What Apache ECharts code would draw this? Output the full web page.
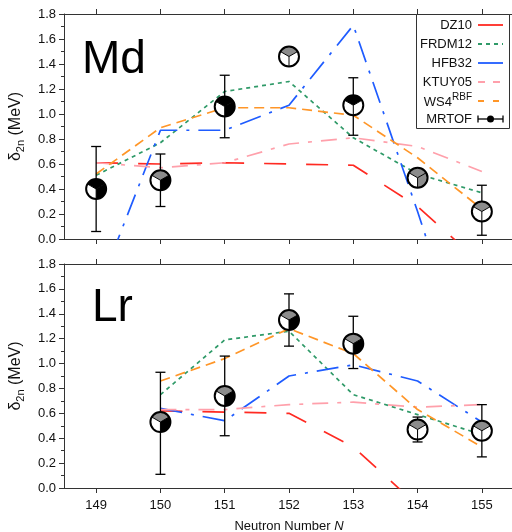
<!DOCTYPE html>
<html><head><meta charset="utf-8">
<script src="https://cdn.jsdelivr.net/npm/echarts@6/dist/echarts.min.js"></script>
<style>html,body{margin:0;padding:0;background:#fff}#c{width:512px;height:532px}</style>
</head><body><div id="c"></div>
<script>
// ---------- data ----------
const N = [149, 150, 151, 152, 153, 154, 155];
const yTicks = [0, 0.2, 0.4, 0.6, 0.8, 1.0, 1.2, 1.4, 1.6, 1.8];
const models = ['DZ10', 'FRDM12', 'HFB32', 'KTUY05', 'WS4'];

// Md (Z=101)
const mdDZ10   = [0.61, 0.60, 0.61, 0.60, 0.59, 0.26, -0.20];
const mdFRDM12 = [0.51, 0.77, 1.18, 1.26, 0.81, 0.52, 0.37];
const mdHFB32  = [-0.45, 0.87, 0.87, 1.07, 1.71, 0.22, -1.35];
const mdKTUY05 = [0.61, 0.57, 0.61, 0.76, 0.81, 0.74, 0.54];
const mdWS4    = [0.52, 0.89, 1.05, 1.05, 0.99, 0.65, 0.24];
const mdExp    = [0.40, 0.47, 1.06, 1.46, 1.07, 0.49, 0.22];
const mdLo     = [0.06, 0.26, 0.81, null, 0.83, null, 0.03];
const mdHi     = [0.74, 0.68, 1.31, null, 1.29, null, 0.43];
const mdTop    = ['k', 'g', 'k', 'g', 'k', 'g', 'g'];
const mdLL     = ['w', 'w', 'w', 'w', 'w', 'w', 'w'];
const mdLR     = ['k', 'k', 'k', 'w', 'w', 'g', 'w'];

// Lr (Z=103)
const lrDZ10   = [null, 0.62, 0.61, 0.60, 0.33, -0.14, -0.60];
const lrFRDM12 = [null, 0.75, 1.19, 1.26, 0.75, 0.59, 0.43];
const lrHFB32  = [null, 0.64, 0.54, 0.90, 0.99, 0.86, 0.53];
const lrKTUY05 = [null, 0.63, 0.63, 0.67, 0.69, 0.65, 0.67];
const lrWS4    = [null, 0.86, 1.04, 1.28, 1.08, 0.63, 0.33];
const lrExp    = [null, 0.53, 0.74, 1.35, 1.16, 0.47, 0.46];
const lrLo     = [null, 0.11, 0.42, 1.14, 0.96, 0.37, 0.25];
const lrHi     = [null, 0.93, 1.06, 1.56, 1.38, 0.57, 0.67];
const lrTop    = [null, 'g', 'g', 'g', 'g', 'g', 'g'];
const lrLL     = [null, 'w', 'w', 'w', 'w', 'w', 'w'];
const lrLR     = [null, 'k', 'k', 'k', 'k', 'w', 'w'];

// ---------- styles ----------
const FONT = 'Liberation Sans, Arial, Helvetica, sans-serif';
const COL = {DZ10: '#ff2a22', FRDM12: '#2f9a68', HFB32: '#1f5cff', KTUY05: '#ffa0ab', WS4: '#ff9628'};
const DASH = {DZ10: [22, 20], FRDM12: [4, 4], HFB32: [22, 9, 3, 9], KTUY05: [16, 9, 4, 9], WS4: [10, 6]};
const FILL = {k: '#000000', g: '#8c8c8c', w: '#ffffff'};

const panels = [
  {name: 'Md', lines: {DZ10: mdDZ10, FRDM12: mdFRDM12, HFB32: mdHFB32, KTUY05: mdKTUY05, WS4: mdWS4},
   exp: mdExp, lo: mdLo, hi: mdHi, top: mdTop, ll: mdLL, lr: mdLR},
  {name: 'Lr', lines: {DZ10: lrDZ10, FRDM12: lrFRDM12, HFB32: lrHFB32, KTUY05: lrKTUY05, WS4: lrWS4},
   exp: lrExp, lo: lrLo, hi: lrHi, top: lrTop, ll: lrLL, lr: lrLR}
];

const grids = [
  {left: 64, right: -2, top: 14, height: 225, containLabel: false, outerBoundsMode: 'none'},
  {left: 64, right: -2, top: 264, height: 224, containLabel: false, outerBoundsMode: 'none'}
];

function xAxis(gi, pos, last) {
  return {
    type: 'value', gridIndex: gi, position: pos, min: 148.5, max: 155.5,
    axisLine: {show: true, onZero: false, lineStyle: {color: '#333', width: 1}},
    axisTick: {show: true, inside: false, length: 5, customValues: N, lineStyle: {color: '#333'}},
    axisLabel: {show: last, customValues: N, formatter: v => String(v), color: '#111',
      fontSize: 13, fontFamily: FONT, margin: 11},
    splitLine: {show: false},
    name: last ? 'Neutron Number {i|N}' : '', nameLocation: 'middle', nameGap: 32,
    nameTextStyle: {fontSize: 13, fontFamily: FONT, color: '#111',
      rich: {i: {fontStyle: 'italic', fontSize: 13, fontFamily: FONT, color: '#111'}}}
  };
}
function yAxis(gi) {
  return {
    type: 'value', gridIndex: gi, min: 0, max: 1.8, interval: 0.2,
    axisLine: {show: true, lineStyle: {color: '#333', width: 1}},
    axisTick: {show: true, inside: false, length: 5, lineStyle: {color: '#333'}},
    minorTick: {show: true, splitNumber: 2, length: 3, lineStyle: {color: '#333'}},
    splitLine: {show: false},
    axisLabel: {formatter: v => v.toFixed(1), fontSize: 13, fontFamily: FONT, color: '#111', margin: 8},
    name: '{d|δ}{s|2n}{d| (MeV)}', nameLocation: 'middle', nameGap: 38, nameRotate: 90,
    nameTextStyle: {fontFamily: FONT, color: '#111', rich: {
      d: {fontSize: 16, fontFamily: FONT, color: '#111', verticalAlign: 'middle', lineHeight: 20},
      s: {fontSize: 11, fontFamily: FONT, color: '#111', verticalAlign: 'middle', padding: [9, 0, 0, 0]}
    }}
  };
}

const xAxes = [], yAxes = [], series = [];
panels.forEach((p, gi) => {
  xAxes.push(xAxis(gi, 'bottom', gi === 1));
  xAxes.push(xAxis(gi, 'top', false));
  yAxes.push(yAxis(gi));
  models.forEach(m => {
    series.push({
      type: 'line', name: m, xAxisIndex: gi * 2, yAxisIndex: gi, symbol: 'none', clip: true,
      lineStyle: {color: COL[m], width: 1.7, type: DASH[m]},
      data: N.map((n, i) => [n, p.lines[m][i]]), z: 2, silent: true
    });
  });
  series.push({
    type: 'custom', xAxisIndex: gi * 2, yAxisIndex: gi, clip: false, z: 5, silent: true,
    data: N.map((n, i) => [n, p.exp[i], p.lo[i], p.hi[i], i]).filter(d => d[1] != null),
    encode: {x: 0, y: 1},
    renderItem: (params, api) => {
      const idx = api.value(4);
      const c = api.coord([api.value(0), api.value(1)]);
      const ch = [];
      const lo = p.lo[idx], hi = p.hi[idx];
      if (lo != null && hi != null) {
        const a = api.coord([api.value(0), lo]), b = api.coord([api.value(0), hi]);
        const ls = {stroke: '#000', lineWidth: 1.3};
        ch.push({type: 'line', shape: {x1: a[0], y1: a[1], x2: b[0], y2: b[1]}, style: ls});
        ch.push({type: 'line', shape: {x1: a[0] - 5, y1: a[1], x2: a[0] + 5, y2: a[1]}, style: ls});
        ch.push({type: 'line', shape: {x1: b[0] - 5, y1: b[1], x2: b[0] + 5, y2: b[1]}, style: ls});
      }
      const r = 10, cx = c[0], cy = c[1];
      const secs = [
        [7 * Math.PI / 6, 11 * Math.PI / 6, p.top[idx]],
        [-Math.PI / 6, Math.PI / 2, p.lr[idx]],
        [Math.PI / 2, 7 * Math.PI / 6, p.ll[idx]]
      ];
      secs.forEach(s => ch.push({type: 'sector',
        shape: {cx, cy, r0: 0, r, startAngle: s[0], endAngle: s[1], clockwise: true},
        style: {fill: FILL[s[2]], stroke: null}}));
      [7 * Math.PI / 6, 11 * Math.PI / 6, Math.PI / 2].forEach(a => ch.push({type: 'line',
        shape: {x1: cx, y1: cy, x2: cx + r * Math.cos(a), y2: cy + r * Math.sin(a)},
        style: {stroke: '#000', lineWidth: 1}}));
      ch.push({type: 'circle', shape: {cx, cy, r}, style: {fill: null, stroke: '#000', lineWidth: 2}});
      return {type: 'group', children: ch};
    }
  });
});

// ---------- legend (graphic) ----------
const LX = 416, LY = 14, LW = 93, LH = 114;
const legRows = [
  {t: 'DZ10', y: 25, m: 'DZ10', dash: null},
  {t: 'FRDM12', y: 44, m: 'FRDM12', dash: [4, 4]},
  {t: 'HFB32', y: 63, m: 'HFB32', dash: null},
  {t: 'KTUY05', y: 82, m: 'KTUY05', dash: [7, 8]},
  {t: 'WS4', y: 101, m: 'WS4', dash: [6, 9]},
  {t: 'MRTOF', y: 119, m: null}
];
const graphic = [
  {type: 'rect', shape: {x: LX + 0.5, y: LY + 0.5, width: LW, height: LH}, style: {fill: '#fff', stroke: '#333', lineWidth: 1}, z: 10},
  {type: 'text', x: 82, y: 60, style: {text: 'Md', fontSize: 46, fontFamily: FONT, fill: '#000', textAlign: 'left', textVerticalAlign: 'middle'}, z: 10},
  {type: 'text', x: 92, y: 308, style: {text: 'Lr', fontSize: 46, fontFamily: FONT, fill: '#000', textAlign: 'left', textVerticalAlign: 'middle'}, z: 10}
];
legRows.forEach(row => {
  if (row.m === 'WS4') {
    graphic.push({type: 'text', x: 472, y: row.y - 4, style: {text: 'RBF', fontSize: 10, fontFamily: FONT, fill: '#111', textAlign: 'right', textVerticalAlign: 'middle'}, z: 11});
    graphic.push({type: 'text', x: 452, y: row.y + 1, style: {text: 'WS4', fontSize: 13, fontFamily: FONT, fill: '#111', textAlign: 'right', textVerticalAlign: 'middle'}, z: 11});
  } else {
    graphic.push({type: 'text', x: 472, y: row.y, style: {text: row.t, fontSize: 13, fontFamily: FONT, fill: '#111', textAlign: 'right', textVerticalAlign: 'middle'}, z: 11});
  }
  if (row.m) {
    graphic.push({type: 'line', shape: {x1: 478, y1: row.y, x2: 503, y2: row.y},
      style: {stroke: COL[row.m], lineWidth: 1.8, lineDash: row.dash}, z: 11});
  } else {
    const st = {stroke: '#000', lineWidth: 1.3};
    graphic.push({type: 'line', shape: {x1: 478, y1: row.y, x2: 503, y2: row.y}, style: st, z: 11});
    graphic.push({type: 'line', shape: {x1: 478, y1: row.y - 3.5, x2: 478, y2: row.y + 3.5}, style: st, z: 11});
    graphic.push({type: 'line', shape: {x1: 503, y1: row.y - 3.5, x2: 503, y2: row.y + 3.5}, style: st, z: 11});
    graphic.push({type: 'circle', shape: {cx: 490.5, cy: row.y, r: 3.5}, style: {fill: '#000'}, z: 11});
  }
});

const chart = echarts.init(document.getElementById('c'), null, {renderer: 'canvas'});
chart.setOption({
  animation: false,
  backgroundColor: '#fff',
  grid: grids,
  xAxis: xAxes,
  yAxis: yAxes,
  series: series,
  graphic: graphic
});
</script>
</body></html>
